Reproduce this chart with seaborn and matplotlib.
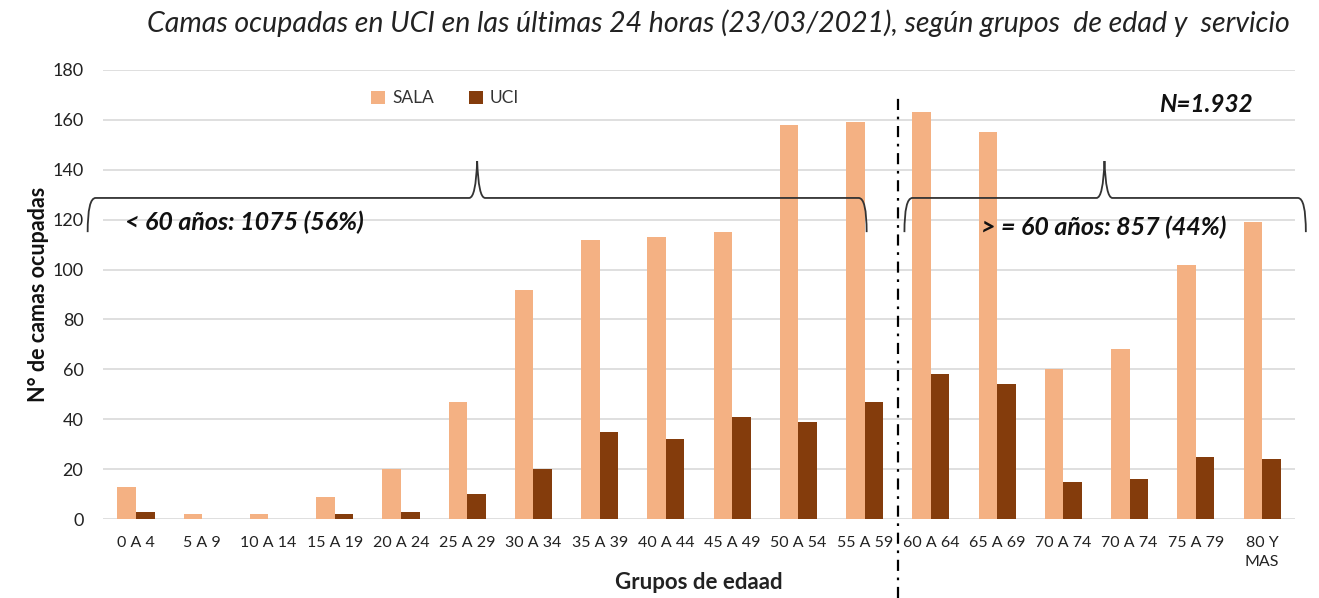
import matplotlib
matplotlib.use("Agg")
import matplotlib.pyplot as plt
import matplotlib.patches as mpatches
from matplotlib.path import Path
import pandas as pd
import seaborn as sns

# data
grupos = ["0 A 4", "5 A 9", "10 A 14", "15 A 19", "20 A 24", "25 A 29",
          "30 A 34", "35 A 39", "40 A 44", "45 A 49", "50 A 54", "55 A 59",
          "60 A 64", "65 A 69", "70 A 74", "70 A 74", "75 A 79", "80 Y\nMAS"]
sala = [13, 2, 2, 9, 20, 47, 92, 112, 113, 115, 158, 159,
        163, 155, 60, 68, 102, 119]
uci = [3, 0, 0, 2, 3, 10, 20, 35, 32, 41, 39, 47,
       58, 54, 15, 16, 25, 24]
servicios = ["SALA", "UCI"]
colores = {"SALA": "#F4B183", "UCI": "#843C0C"}

titulo = "Camas ocupadas en UCI en las últimas 24 horas (23/03/2021), según grupos  de edad y  servicio"
texto_menor = "< 60 años: 1075 (56%)"
texto_mayor = "> = 60 años: 857 (44%)"
texto_total = "N=1.932"

sns.set_theme(style="white")
plt.rcParams["font.family"] = ["Lato", "DejaVu Sans"]

df = pd.DataFrame({"pos": list(range(len(grupos))) * 2,
                   "servicio": ["SALA"] * len(sala) + ["UCI"] * len(uci),
                   "camas": sala + uci})

fig = plt.figure(figsize=(13.19, 5.98), dpi=100)
ax = fig.add_axes([0.078, 0.132, 0.904, 0.751])

sns.barplot(data=df, x="pos", y="camas", hue="servicio", hue_order=servicios,
            palette=colores, width=0.56, linewidth=0, saturation=1, ax=ax)

ax.set_ylim(0, 180)
ax.set_yticks(range(0, 181, 20))
ax.set_xlim(-0.5, len(grupos) - 0.5)
ax.set_xticks(range(len(grupos)))
ax.set_xticklabels(grupos, fontsize=11.5, color="#222222", linespacing=1.5,
                   verticalalignment="top")
ax.tick_params(axis="y", labelsize=13, colors="#222222", length=0, pad=14)
ax.tick_params(axis="x", length=0, pad=12)
ax.yaxis.grid(True, color="#D9D9D9", lw=1.2)
ax.set_axisbelow(True)
for s in ax.spines.values():
    s.set_visible(False)

ax.set_xlabel("Grupos de edaad", fontsize=16, fontweight="bold",
              color="#222222", labelpad=2)
ax.set_ylabel("N° de camas ocupadas", fontsize=15.5, fontweight="bold",
              color="#111111", labelpad=2)

leg = ax.legend(loc="center", bbox_to_anchor=(0.287, 0.937), ncol=2,
                frameon=False, fontsize=12.5, handlelength=0.8,
                handleheight=0.8, columnspacing=2.0, handletextpad=0.4)
for t in leg.get_texts():
    t.set_color("#333333")

fig.text(0.978, 0.962, titulo, ha="right", va="center", fontsize=20.5,
         style="italic", color="#222222")


def llave(ax, x0, x1, xp, y, cima, fondo):
    # curly brace drawn as a bezier path in data coordinates
    r = 0.12
    verts = [(x0, fondo), (x0, y), (x0 + r, y),
             (xp - 0.12, y),
             (xp - 0.02, y), (xp, cima),
             (xp + 0.02, y), (xp + 0.12, y),
             (x1 - r, y),
             (x1, y), (x1, fondo)]
    codes = [Path.MOVETO, Path.CURVE3, Path.CURVE3,
             Path.LINETO,
             Path.CURVE3, Path.CURVE3,
             Path.CURVE3, Path.CURVE3,
             Path.LINETO,
             Path.CURVE3, Path.CURVE3]
    ax.add_patch(mpatches.PathPatch(Path(verts, codes), fill=False,
                                    edgecolor="#333333", lw=1.3,
                                    clip_on=False, zorder=5))


llave(ax, -0.73, 11.03, 5.15, 128.7, 143.5, 115)
llave(ax, 11.6, 17.66, 14.62, 128.7, 143.5, 115)

ax.axvline(11.5, ymin=-0.176, ymax=0.94, color="black", lw=1.6,
           dashes=(5, 3, 1.2, 3), clip_on=False, zorder=6)

ax.text(-0.17, 119, texto_menor, fontsize=18, fontweight="bold",
        style="italic", va="center", ha="left", color="#111111", zorder=7)
ax.text(12.75, 117, texto_mayor, fontsize=18, fontweight="bold",
        style="italic", va="center", ha="left", color="#111111", zorder=7)
ax.text(16.15, 166, texto_total, fontsize=17.5, fontweight="bold",
        style="italic", va="center", ha="center", color="#111111", zorder=7)

fig.savefig("out.png", dpi=100)
